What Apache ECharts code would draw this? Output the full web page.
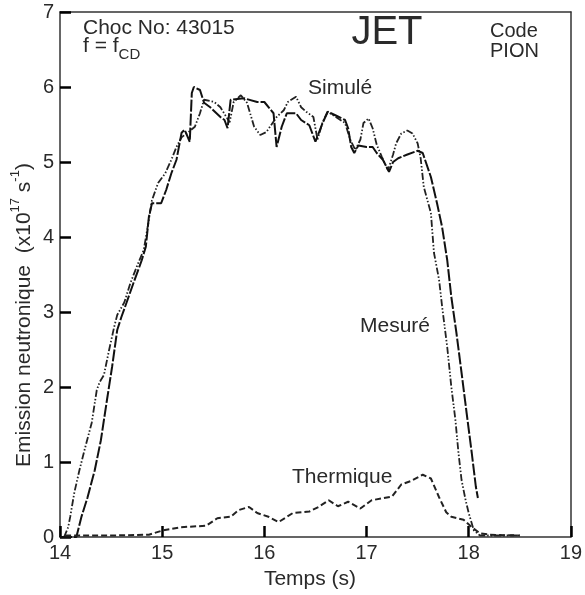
<!DOCTYPE html>
<html>
<head>
<meta charset="utf-8">
<script src="https://cdn.jsdelivr.net/npm/echarts@6/dist/echarts.min.js"></script>
<style>html,body{margin:0;padding:0;background:#fff}#c{width:585px;height:595px}</style>
</head>
<body>
<div id="c"></div>
<script>
// Simulated / measured curves (time in s, value in 1e17 n/s)
var timeA = [14.04,14.08,14.10,14.14,14.19,14.24,14.31,14.36,14.39,14.43,14.48,14.53,14.56,14.63,14.69,14.75,14.82,14.86,14.90,14.96,15.03,15.09,15.14,15.19,15.25,15.32,15.37,15.41,15.51,15.57,15.66,15.70,15.77,15.83,15.90,15.96,16.02,16.12,16.19,16.23,16.31,16.36,16.41,16.48,16.52,16.57,16.62,16.70,16.79,16.84,16.89,16.94,16.97,17.02,17.06,17.10,17.15,17.21,17.26,17.29,17.34,17.40,17.45,17.50,17.53,17.56,17.63,17.66,17.71,17.74,17.79,17.83,17.87,17.90,17.93,17.97,18.00,18.05,18.11,18.20,18.35,18.50];
var valA  = [0,0.13,0.27,0.59,0.89,1.16,1.52,1.96,2.07,2.16,2.49,2.80,2.96,3.13,3.39,3.60,3.83,4.15,4.49,4.72,4.85,5.03,5.20,5.33,5.39,5.47,5.65,5.83,5.80,5.73,5.53,5.80,5.89,5.79,5.47,5.36,5.40,5.60,5.69,5.80,5.87,5.73,5.67,5.60,5.30,5.53,5.67,5.60,5.52,5.30,5.16,5.30,5.52,5.58,5.45,5.23,5.07,4.89,5.10,5.25,5.38,5.42,5.38,5.25,5.05,4.67,4.32,3.79,3.43,3.07,2.53,2.00,1.56,1.12,0.76,0.49,0.32,0.09,0.02,0.02,0.02,0.02];
var timeB = [14.00,14.16,14.21,14.27,14.34,14.40,14.46,14.51,14.56,14.60,14.65,14.72,14.80,14.84,14.87,14.90,14.99,15.04,15.09,15.14,15.19,15.22,15.27,15.29,15.31,15.37,15.41,15.47,15.57,15.61,15.64,15.67,15.80,15.93,16.00,16.09,16.12,16.17,16.22,16.31,16.36,16.44,16.50,16.57,16.62,16.70,16.79,16.82,16.85,16.88,16.92,17.00,17.06,17.10,17.16,17.22,17.26,17.31,17.40,17.50,17.55,17.63,17.69,17.74,17.79,17.83,17.88,17.93,17.98,18.03,18.07,18.09];
var valB  = [0,0,0.27,0.53,0.89,1.29,1.83,2.27,2.76,2.93,3.12,3.39,3.69,3.87,4.27,4.45,4.45,4.63,4.85,5.03,5.39,5.43,5.27,5.92,6.00,5.96,5.79,5.73,5.60,5.56,5.45,5.83,5.85,5.80,5.80,5.65,5.20,5.47,5.65,5.65,5.56,5.49,5.27,5.52,5.67,5.62,5.56,5.45,5.20,5.12,5.22,5.20,5.20,5.12,5.03,4.87,5.00,5.05,5.10,5.15,5.12,4.80,4.45,4.13,3.69,3.20,2.72,2.19,1.65,1.12,0.67,0.52];
// Thermal component
var timeT = [14.05,14.50,14.87,15.01,15.18,15.43,15.54,15.67,15.75,15.85,15.93,16.04,16.14,16.28,16.44,16.53,16.63,16.72,16.82,16.94,17.05,17.25,17.34,17.44,17.55,17.63,17.71,17.78,17.83,17.95,18.03,18.11,18.21,18.50];
var valT  = [0.02,0.02,0.03,0.09,0.13,0.15,0.25,0.27,0.36,0.40,0.32,0.27,0.20,0.32,0.34,0.40,0.49,0.41,0.47,0.38,0.49,0.54,0.70,0.75,0.83,0.78,0.53,0.33,0.27,0.23,0.13,0.05,0.03,0.02];
var xTicks = [14,15,16,17,18,19];
var yTicks = [0,1,2,3,4,5,6,7];

function pairs(t, v){ return t.map(function(x,i){ return [x, v[i]]; }); }

var FONT = 'Liberation Sans';
var TXT = '#2a2a2a';
var AX = '#333';
var TICK = '#000';
function mainAxis(ticks){
  return {
    type: 'value', min: ticks[0], max: ticks[ticks.length-1], interval: 1,
    axisLine: {show: true, lineStyle: {color: AX, width: 1.5}},
    axisTick: {show: true, inside: true, length: 11, lineStyle: {color: TICK, width: 2.5}},
    axisLabel: {show: true, fontFamily: FONT, fontSize: 20, color: TXT, margin: 6},
    splitLine: {show: false}
  };
}
function frameAxis(ticks, pos){
  return {
    type: 'value', position: pos, min: ticks[0], max: ticks[ticks.length-1], interval: 1,
    axisLine: {show: true, onZero: false, lineStyle: {color: AX, width: 1.5}},
    axisTick: {show: false}, axisLabel: {show: false}, splitLine: {show: false}
  };
}
var chart = echarts.init(document.getElementById('c'));
chart.setOption({
  animation: false,
  grid: {left: 60, right: 7, top: 12, bottom: 58},
  xAxis: [mainAxis(xTicks), frameAxis(xTicks, 'top')],
  yAxis: [mainAxis(yTicks), frameAxis(yTicks, 'right')],
  series: [
    {type: 'line', data: pairs(timeA, valA), showSymbol: false, lineStyle: {color: '#222', width: 1.8, type: [7,2,1.5,2,1.5,2]}},
    {type: 'line', data: pairs(timeB, valB), showSymbol: false, lineStyle: {color: '#111', width: 2, type: [12,2]}},
    {type: 'line', data: pairs(timeT, valT), showSymbol: false, lineStyle: {color: '#222', width: 2, type: [6,3]}}
  ],
  graphic: [
    {type: 'text', left: 83, top: 18, style: {text: 'Choc No: 43015', font: '21px ' + FONT, fill: TXT}},
    {type: 'text', left: 83, top: 36, style: {text: '{n|f = f}{s|CD}', fill: TXT,
      rich: {n: {fontFamily: FONT, fontSize: 21, lineHeight: 26, verticalAlign: 'top', fill: TXT},
             s: {fontFamily: FONT, fontSize: 15, lineHeight: 26, verticalAlign: 'bottom', fill: TXT}}}},
    {type: 'text', x: 387, y: 33, style: {text: 'JET', font: '40px ' + FONT, fill: TXT, textAlign: 'center', textVerticalAlign: 'middle'}},
    {type: 'text', left: 490, top: 21, style: {text: 'Code\nPION', font: '20px ' + FONT, lineHeight: 20, fill: TXT}},
    {type: 'text', x: 308, y: 88, style: {text: 'Simulé', font: '21px ' + FONT, fill: TXT, textVerticalAlign: 'middle'}},
    {type: 'text', x: 360, y: 326, style: {text: 'Mesuré', font: '21px ' + FONT, fill: TXT, textVerticalAlign: 'middle'}},
    {type: 'text', x: 292, y: 477, style: {text: 'Thermique', font: '21px ' + FONT, fill: TXT, textVerticalAlign: 'middle'}},
    {type: 'text', x: 310, y: 579, style: {text: 'Temps (s)', font: '21px ' + FONT, fill: TXT, textAlign: 'center', textVerticalAlign: 'middle'}},
    {type: 'text', x: 22, y: 315, rotation: Math.PI/2,
      style: {text: '{n|Emission neutronique  (x10}{s|17}{n| s}{s|-1}{n|)}', textAlign: 'center', textVerticalAlign: 'middle', fill: TXT,
        rich: {n: {fontFamily: FONT, fontSize: 21, lineHeight: 26, verticalAlign: 'bottom', fill: TXT},
               s: {fontFamily: FONT, fontSize: 13, lineHeight: 26, verticalAlign: 'top', fill: TXT}}}}
  ]
});
</script>
</body>
</html>
